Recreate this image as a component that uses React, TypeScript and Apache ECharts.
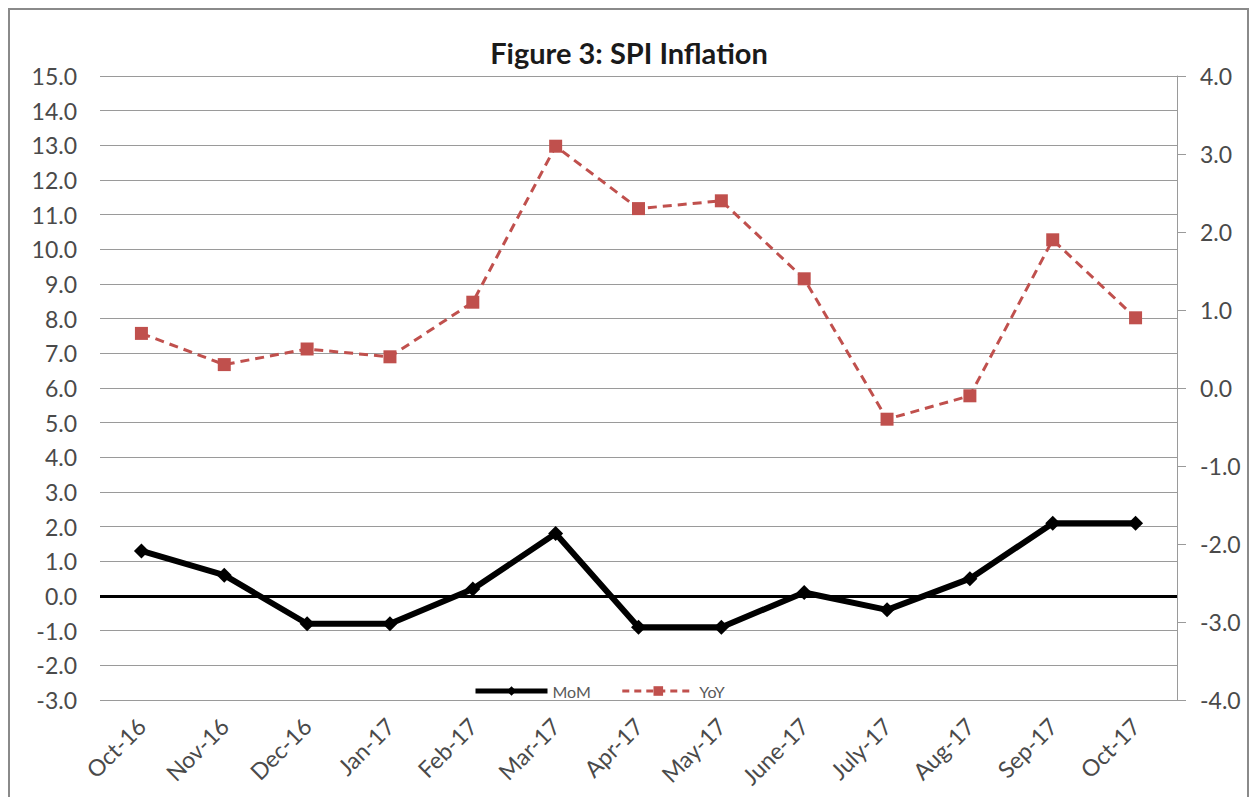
import React, { useEffect, useRef } from "react";
import * as echarts from "echarts";

const categories = [
  "Oct-16", "Nov-16", "Dec-16", "Jan-17", "Feb-17", "Mar-17", "Apr-17",
  "May-17", "June-17", "July-17", "Aug-17", "Sep-17", "Oct-17",
];
const momValues = [1.3, 0.6, -0.8, -0.8, 0.2, 1.8, -0.9, -0.9, 0.1, -0.4, 0.5, 2.1, 2.1];
const yoyValues = [0.7, 0.3, 0.5, 0.4, 1.1, 3.1, 2.3, 2.4, 1.4, -0.4, -0.1, 1.9, 0.9];
const titleText = "Figure 3: SPI Inflation";

const FONT = "Lato";
const TEXT_COLOR = "#4a4a4a";
const RED = "#c0504d";

export default function App() {
  const ref = useRef<HTMLDivElement>(null);
  useEffect(() => {
    if (!ref.current) return;
    const chart = echarts.init(ref.current, undefined, { renderer: "svg" });
    chart.setOption({
      animation: false,
      backgroundColor: "#ffffff",
      textStyle: { fontFamily: FONT },
      title: {
        text: titleText,
        left: "center",
        top: 33,
        textStyle: { fontFamily: FONT, fontWeight: "bold", fontSize: 29, color: "#1a1a1a" },
      },
      graphic: [
        {
          type: "rect",
          shape: { x: 9, y: 9, width: 1239, height: 800 },
          style: { fill: "none", stroke: "#8a8a8a", lineWidth: 2 },
          silent: true,
        },
      ],
      legend: {
        left: 473,
        top: 683,
        padding: 0,
        itemWidth: 72,
        itemHeight: 12,
        itemGap: 30,
        textStyle: { fontFamily: FONT, fontSize: 16, color: "#595959" },
        data: [
          { name: "MoM", lineStyle: { width: 5, color: "#000" } },
          { name: "YoY", lineStyle: { width: 3, color: RED, type: [7, 5] } },
        ],
      },
      grid: { left: 100, right: 81, top: 76, bottom: 97, containLabel: false },
      xAxis: {
        type: "category",
        data: categories,
        boundaryGap: true,
        axisLine: { show: false },
        axisTick: { show: false },
        axisLabel: {
          rotate: 45,
          margin: 22,
          fontFamily: FONT,
          fontSize: 23,
          color: TEXT_COLOR,
        },
      },
      yAxis: [
        {
          type: "value",
          min: -3,
          max: 15,
          interval: 1,
          axisLine: { show: false },
          axisTick: { show: false },
          splitLine: { lineStyle: { color: "#9a9a9a", width: 1 } },
          axisLabel: {
            margin: 23,
            fontFamily: FONT,
            fontSize: 23,
            color: TEXT_COLOR,
            formatter: (v: number) => v.toFixed(1),
          },
        },
        {
          type: "value",
          position: "right",
          min: -4,
          max: 4,
          interval: 1,
          axisLine: { show: true, lineStyle: { color: "#9a9a9a", width: 1 } },
          axisTick: { show: true, inside: false, length: 9, lineStyle: { color: "#9a9a9a" } },
          splitLine: { show: false },
          axisLabel: {
            margin: 23,
            fontFamily: FONT,
            fontSize: 23,
            color: TEXT_COLOR,
            formatter: (v: number) => v.toFixed(1),
          },
        },
      ],
      series: [
        {
          name: "MoM",
          type: "line",
          yAxisIndex: 0,
          data: momValues,
          symbol: "diamond",
          symbolSize: 15,
          itemStyle: { color: "#000" },
          lineStyle: { color: "#000", width: 6 },
          z: 3,
          markLine: {
            silent: true,
            symbol: ["none", "none"],
            label: { show: false },
            lineStyle: { color: "#000", width: 3, type: "solid" },
            data: [{ yAxis: 0 }],
            z: 2,
          },
        },
        {
          name: "YoY",
          type: "line",
          yAxisIndex: 1,
          data: yoyValues,
          symbol: "rect",
          symbolSize: 13,
          itemStyle: { color: RED },
          lineStyle: { color: RED, width: 3, type: [9, 6] },
          z: 4,
        },
      ],
    });
    return () => chart.dispose();
  }, []);
  return (
    <div
      ref={ref}
      style={{ position: "absolute", left: 0, top: 0, width: 1258, height: 797 }}
    />
  );
}
